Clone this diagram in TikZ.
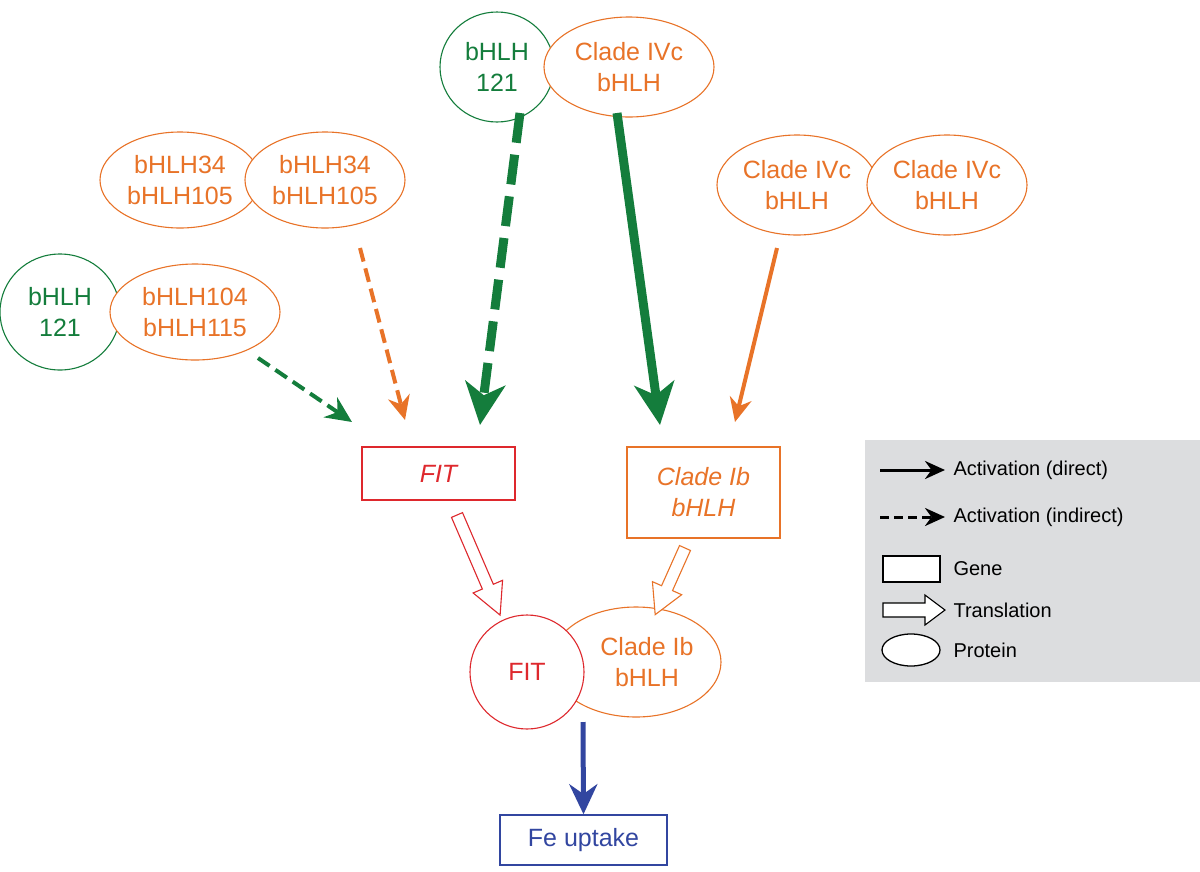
\documentclass[tikz,border=0pt]{standalone}
\usepackage{fontspec}
\setmainfont{Liberation Sans}
\usetikzlibrary{arrows.meta,shapes.geometric}
\definecolor{gr}{RGB}{20,125,60}
\definecolor{og}{RGB}{232,115,40}
\definecolor{rd}{RGB}{222,40,45}
\definecolor{bl}{RGB}{50,70,160}
\definecolor{lg}{RGB}{220,221,223}
\begin{document}
\begin{tikzpicture}[x=1pt,y=-1pt,
  prot/.style={ellipse,draw=#1,text=#1,fill=white,line width=1.1pt,inner sep=0pt,align=center,font=\fontsize{25}{31}\selectfont},
  gene/.style={rectangle,draw=#1,text=#1,line width=1.5pt,align=center,font=\fontsize{25}{31}\selectfont\itshape},
  hollow/.style={draw=#1,fill=white,line width=1.1pt}]
\useasboundingbox (0,0) rectangle (1200,871);
\fill[lg] (865,440) rectangle (1200,682);
% top pair
\node[prot=gr,minimum width=114pt,minimum height=110pt] (t1) at (497,67) {bHLH\\121};
\node[prot=og,minimum width=170pt,minimum height=100pt] (t2) at (629,67) {Clade IVc\\bHLH};
% bHLH34 pair
\node[prot=og,minimum width=160pt,minimum height=96pt] (a1) at (180,180) {bHLH34\\bHLH105};
\node[prot=og,minimum width=160pt,minimum height=96pt] (a2) at (325,180) {bHLH34\\bHLH105};
% 121/104 pair
\node[prot=gr,minimum width=120pt,minimum height=116pt] (b1) at (60,312) {bHLH\\121};
\node[prot=og,minimum width=170pt,minimum height=96pt] (b2) at (195,312) {bHLH104\\bHLH115};
% IVc pair
\node[prot=og,minimum width=160pt,minimum height=100pt] (c1) at (797,185) {Clade IVc\\bHLH};
\node[prot=og,minimum width=160pt,minimum height=100pt] (c2) at (947,185) {Clade IVc\\bHLH};
% genes
\node[gene=rd,minimum width=153pt,minimum height=53pt] (fit) at (438.5,473.5) {FIT};
\node[gene=og,minimum width=153pt,minimum height=91pt] (ib) at (703.5,492.5) {Clade Ib\\bHLH};
% proteins
\node[prot=og,minimum width=170pt,minimum height=110pt] (pib) at (636,662) {\hspace*{22pt}Clade Ib\\\hspace*{22pt}bHLH};
\node[prot=rd,circle,minimum size=114pt] (pfit) at (527,672) {FIT};
% Fe uptake
\node[draw=bl,text=bl,line width=1.5pt,minimum width=167pt,minimum height=50pt,font=\fontsize{25}{31}\selectfont] (fe) at (583.5,840) {Fe uptake};
% activation arrows
\coordinate (e1) at (480,425); \coordinate (e2) at (660,425);
\coordinate (e3) at (405,420); \coordinate (e4) at (352,422);
\coordinate (e5) at (735,422);
\draw[gr,line width=9pt,dash pattern=on 30pt off 12pt,-{Stealth[length=42pt,width=40pt,inset=12pt]}] (520,113) -- (e1);
\draw[gr,line width=9pt,-{Stealth[length=42pt,width=40pt,inset=12pt]}] (617,113) -- (e2);
\draw[og,line width=4pt,dash pattern=on 14pt off 7pt,-{Stealth[length=24pt,width=22pt]}] (360,248) -- (e3);
\draw[gr,line width=4pt,dash pattern=on 14pt off 7pt,-{Stealth[length=26pt,width=24pt]}] (258,358) -- (e4);
\draw[og,line width=4pt,-{Stealth[length=24pt,width=22pt]}] (777,248) -- (e5);
\draw[bl,line width=5pt,-{Stealth[length=30pt,width=28pt]}] (583,722) -- (fe.north);
% translation arrows
\begin{scope}[shift={(457,515)},rotate=-66.7]
\draw[hollow=rd] (0,6)--(78,6)--(78,16)--(109,0)--(78,-16)--(78,-6)--(0,-6)--cycle;
\end{scope}
\begin{scope}[shift={(685,548)},rotate=-114.1]
\draw[hollow=og] (0,6)--(44,6)--(44,16)--(73,0)--(44,-16)--(44,-6)--(0,-6)--cycle;
\end{scope}
% legend
\begin{scope}[font=\fontsize{20}{24}\selectfont]
\draw[line width=3pt,-{Stealth[length=20pt,width=18pt]}] (880,470) -- (945,470);
\node[anchor=west] at (950,470) {Activation (direct)};
\draw[line width=3pt,dash pattern=on 9pt off 5pt,-{Stealth[length=20pt,width=18pt]}] (880,517) -- (945,517);
\node[anchor=west] at (950,517) {Activation (indirect)};
\draw[fill=white,line width=1.3pt] (883,556) rectangle (940,582);
\node[anchor=west] at (950,569) {Gene};
\draw[hollow=black] (883,603)--(925,603)--(925,595)--(945,610)--(925,625)--(925,617)--(883,617)--cycle;
\node[anchor=west] at (950,610) {Translation};
\draw[fill=white,line width=1.3pt] (911,650) ellipse (29 and 16);
\node[anchor=west] at (950,650) {Protein};
\end{scope}
\end{tikzpicture}
\end{document}
